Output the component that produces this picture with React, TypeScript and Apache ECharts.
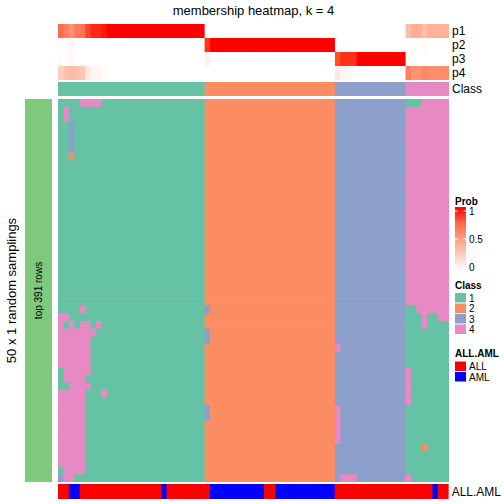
import React, { useEffect, useRef } from "react";
import * as echarts from "echarts";

const titleText = "membership heatmap, k = 4";
const rowTitle = "50 x 1 random samplings";
const sliceLabel = "top 391 rows";
const probNames = ["p1", "p2", "p3", "p4"];
const classNames = ["1", "2", "3", "4"];
const classColors = ["#66C2A5", "#FC8D62", "#8DA0CB", "#E78AC3"];
const sampleNames = ["ALL", "AML"];
const sampleColors = ["#FF0000", "#0000FF"];
const probTicks = ["1", "0.5", "0"];

// membership probabilities per column (72 samples)
const p1 = [
  0.73, 0.65, 0.57, 0.67, 0.7, 0.88, 0.95, 0.95, 0.98,
  1, 1, 1, 1, 1, 1, 1, 1, 1, 1, 1, 1, 1, 1, 1, 1, 1, 1,
  0, 0, 0, 0, 0, 0, 0, 0, 0, 0, 0, 0, 0, 0, 0, 0, 0, 0, 0, 0, 0, 0, 0, 0,
  0, 0, 0, 0, 0, 0, 0, 0, 0, 0, 0, 0, 0,
  0.35, 0.42, 0.42, 0.33, 0.4, 0.4, 0.4, 0.4,
];
const p2 = [
  0, 0.02, 0.04, 0, 0, 0, 0, 0, 0,
  0, 0, 0, 0, 0, 0, 0, 0, 0, 0, 0, 0, 0, 0, 0, 0, 0, 0,
  0.92, 1, 1, 1, 1, 1, 1, 1, 1, 1, 1, 1, 1, 1, 1, 1, 1, 1, 1, 1, 1, 1, 1, 1,
  0, 0, 0, 0, 0, 0, 0, 0, 0, 0, 0, 0, 0,
  0, 0, 0, 0.03, 0, 0, 0, 0,
];
const p3 = [
  0.02, 0, 0.04, 0, 0, 0, 0, 0, 0,
  0, 0, 0, 0, 0, 0, 0, 0, 0, 0, 0, 0, 0, 0, 0, 0, 0, 0,
  0.08, 0, 0, 0, 0, 0, 0, 0, 0, 0, 0, 0, 0, 0, 0, 0, 0, 0, 0, 0, 0, 0, 0, 0,
  0.85, 0.93, 0.93, 0.93, 1, 1, 1, 1, 1, 1, 1, 1, 1,
  0, 0, 0, 0, 0, 0, 0, 0,
];
const p4 = [
  0.25, 0.33, 0.35, 0.33, 0.3, 0.12, 0.05, 0.05, 0.02,
  0, 0, 0, 0, 0, 0, 0, 0, 0, 0, 0, 0, 0, 0, 0, 0, 0, 0,
  0, 0, 0, 0, 0, 0, 0, 0, 0, 0, 0, 0, 0, 0, 0, 0, 0, 0, 0, 0, 0, 0, 0, 0,
  0.12, 0.05, 0.04, 0, 0, 0, 0, 0, 0, 0, 0, 0, 0,
  0.65, 0.55, 0.55, 0.62, 0.58, 0.58, 0.58, 0.58,
];

// consensus class per column, as runs [class, count]
const classRuns = [[1, 27], [2, 24], [3, 13], [4, 8]];

// ALL.AML per column, as runs [type, count]
const sampleRuns: [string, number][] = [
  ["ALL", 2], ["AML", 2], ["ALL", 15], ["AML", 1], ["ALL", 8], ["AML", 10],
  ["ALL", 2], ["AML", 11], ["ALL", 18], ["AML", 1], ["ALL", 2],
];

// 50 random samplings, each row as runs "class*count"
const samplingRows = [
  "1*4 4*4 1*19 2*24 3*13 1*3 4*5",
  "1*1 4*1 1*25 2*24 3*13 4*8",
  "1*1 4*1 1*25 2*24 3*13 4*8",
  "1*2 3*1 1*24 2*24 3*13 4*8",
  "1*2 3*1 1*24 2*24 3*13 4*8",
  "1*2 3*1 1*24 2*24 3*13 4*8",
  "1*2 3*1 1*24 2*24 3*13 4*8",
  "1*2 2*1 1*24 2*24 3*13 4*8",
  "1*27 2*24 3*13 4*8",
  "1*27 2*24 3*13 4*8",
  "1*27 2*24 3*13 4*8",
  "1*27 2*24 3*13 4*8",
  "1*27 2*24 3*13 4*8",
  "1*27 2*24 3*13 4*8",
  "1*27 2*24 3*13 4*8",
  "1*27 2*24 3*13 4*8",
  "1*27 2*24 3*13 4*8",
  "1*27 2*24 3*13 4*8",
  "1*27 2*24 3*13 4*8",
  "1*27 2*24 3*13 4*8",
  "1*27 2*24 3*13 4*8",
  "1*27 2*24 3*13 4*8",
  "1*27 2*24 3*13 4*8",
  "1*27 2*24 3*13 4*8",
  "1*27 2*24 3*13 4*8",
  "1*27 2*24 3*13 4*8",
  "1*27 2*24 3*13 4*8",
  "1*4 4*1 1*22 3*1 2*23 3*13 1*2 4*6",
  "4*2 1*25 2*24 3*13 1*3 4*1 1*2 4*2",
  "4*1 1*1 4*1 1*1 4*2 1*1 4*1 1*19 2*24 3*13 1*3 4*1 1*4",
  "4*7 1*20 3*1 2*23 3*13 1*8",
  "4*6 1*21 3*1 2*23 3*13 1*8",
  "4*6 1*21 2*24 4*1 3*12 1*8",
  "4*6 1*21 2*24 3*13 1*8",
  "4*6 1*21 2*24 3*13 1*8",
  "1*1 4*5 1*21 2*24 3*13 4*1 1*7",
  "1*1 4*4 1*22 2*24 3*13 4*1 1*7",
  "1*2 4*4 1*21 2*24 3*13 4*1 1*7",
  "4*5 1*3 4*1 1*18 2*24 3*13 4*1 1*7",
  "4*5 1*22 2*24 3*13 4*1 1*7",
  "4*5 1*22 3*1 2*23 4*1 3*12 1*8",
  "4*5 1*22 3*1 2*23 4*1 3*12 1*8",
  "4*5 1*22 2*24 4*1 3*12 1*8",
  "4*5 1*22 2*24 4*1 3*12 1*8",
  "4*5 1*22 2*24 4*1 3*12 1*8",
  "4*5 1*22 2*24 3*13 1*3 2*1 1*4",
  "4*5 1*22 2*24 3*13 1*8",
  "4*5 1*22 2*24 3*13 1*8",
  "1*1 4*4 1*22 2*24 3*13 1*8",
  "3*1 4*2 1*24 2*24 3*1 4*3 3*9 4*1 1*7",
];

const FONT = "Liberation Sans, Arial, Helvetica, sans-serif";

// LAB interpolation white -> red (like colorRamp2)
function lin(c: number) {
  c /= 255;
  return c <= 0.04045 ? c / 12.92 : Math.pow((c + 0.055) / 1.055, 2.4);
}
function toLab(rgb: number[]) {
  const r = lin(rgb[0]), g = lin(rgb[1]), b = lin(rgb[2]);
  const X = (0.4124 * r + 0.3576 * g + 0.1805 * b) / 0.95047;
  const Y = 0.2126 * r + 0.7152 * g + 0.0722 * b;
  const Z = (0.0193 * r + 0.1192 * g + 0.9505 * b) / 1.08883;
  const f = (t: number) => (t > 0.008856 ? Math.cbrt(t) : 7.787 * t + 16 / 116);
  return [116 * f(Y) - 16, 500 * (f(X) - f(Y)), 200 * (f(Y) - f(Z))];
}
function fromLab(L: number, a: number, bb: number) {
  const fy = (L + 16) / 116, fx = fy + a / 500, fz = fy - bb / 200;
  const inv = (t: number) => (t * t * t > 0.008856 ? t * t * t : (t - 16 / 116) / 7.787);
  const X = 0.95047 * inv(fx), Y = inv(fy), Z = 1.08883 * inv(fz);
  const r = 3.2406 * X - 1.5372 * Y - 0.4986 * Z;
  const g = -0.9689 * X + 1.8758 * Y + 0.0415 * Z;
  const b = 0.0557 * X - 0.204 * Y + 1.057 * Z;
  const gam = (c: number) => {
    const v = c <= 0.0031308 ? 12.92 * c : 1.055 * Math.pow(c, 1 / 2.4) - 0.055;
    return Math.max(0, Math.min(255, Math.round(v * 255)));
  };
  return `rgb(${gam(r)},${gam(g)},${gam(b)})`;
}
const labW = toLab([255, 255, 255]);
const labR = toLab([255, 0, 0]);
function probColor(v: number) {
  return fromLab(
    labW[0] + (labR[0] - labW[0]) * v,
    labW[1] + (labR[1] - labW[1]) * v,
    labW[2] + (labR[2] - labW[2]) * v
  );
}

const nCols = p1.length;
const colCats = Array.from({ length: nCols }, (_, i) => "s" + (i + 1));
const rowCats = samplingRows.map((_, i) => "r" + (i + 1));

function rectRender(colors: string[], nX: number, nY: number) {
  return (params: any, api: any) => {
    const x = api.value(0), y = api.value(1), len = api.value(2);
    const c = api.coord([x, y]);
    const s = api.size([1, 1]);
    const padW = x + len < nX ? 0.7 : 0;
    const padH = y + 1 < nY ? 0.7 : 0;
    return {
      type: "rect",
      shape: { x: c[0] - s[0] / 2, y: c[1] - s[1] / 2, width: s[0] * len + padW, height: s[1] + padH },
      style: { fill: colors[params.dataIndex] },
    };
  };
}

export default function App() {
  const ref = useRef<HTMLDivElement>(null);
  useEffect(() => {
    if (!ref.current) return;
    const chart = echarts.init(ref.current, null, { renderer: "svg" });

    const probData: number[][] = [];
    const probColors: string[] = [];
    [p1, p2, p3, p4].forEach((arr, r) => {
      arr.forEach((v, c) => {
        probData.push([c, r, 1]);
        probColors.push(probColor(v));
      });
    });

    const classData: number[][] = [];
    const classCols: string[] = [];
    let pos = 0;
    classRuns.forEach(([k, n]) => {
      classData.push([pos, 0, n]);
      classCols.push(classColors[k - 1]);
      pos += n;
    });

    const mainData: number[][] = [];
    const mainCols: string[] = [];
    samplingRows.forEach((row, r) => {
      let x = 0;
      row.split(" ").forEach((tok) => {
        const [k, n] = tok.split("*").map(Number);
        mainData.push([x, r, n]);
        mainCols.push(classColors[k - 1]);
        x += n;
      });
    });

    const sData: number[][] = [];
    const sCols: string[] = [];
    pos = 0;
    sampleRuns.forEach(([t, n]) => {
      sData.push([pos, 0, n]);
      sCols.push(sampleColors[sampleNames.indexOf(t)]);
      pos += n;
    });

    const grids = [
      { left: 58, top: 24, width: 391, height: 56 },
      { left: 58, top: 82, width: 391, height: 14 },
      { left: 58, top: 99, width: 391, height: 383 },
      { left: 58, top: 484, width: 391, height: 15 },
    ];
    const yCats = [probNames, ["Class"], rowCats, ["ALL.AML"]];

    const gradStops = [0, 0.25, 0.5, 0.75, 1].map((o) => ({ offset: o, color: probColor(1 - o) }));

    const legendX = 455;
    const graphic: any[] = [
      {
        type: "rect",
        shape: { x: 25, y: 99, width: 27, height: 383 },
        style: { fill: "#7FC97F" },
      },
      {
        type: "text",
        x: 38, y: 290.5, rotation: Math.PI / 2,
        style: { text: sliceLabel, fill: "#000", font: `10px ${FONT}`, align: "center", verticalAlign: "middle" },
      },
      {
        type: "text",
        x: 11, y: 290.5, rotation: Math.PI / 2,
        style: { text: rowTitle, fill: "#000", font: `13px ${FONT}`, align: "center", verticalAlign: "middle" },
      },
      {
        type: "text",
        x: 253.5, y: 10,
        style: { text: titleText, fill: "#000", font: `13px ${FONT}`, align: "center", verticalAlign: "middle" },
      },
      {
        type: "text", x: legendX, y: 201,
        style: { text: "Prob", fill: "#000", font: `bold 10px ${FONT}`, verticalAlign: "middle" },
      },
      {
        type: "rect",
        shape: { x: legendX, y: 207, width: 11, height: 64 },
        style: { fill: new echarts.graphic.LinearGradient(0, 0, 0, 1, gradStops) },
      },
    ];
    const tickY = [211, 239, 267];
    probTicks.forEach((t, i) => {
      graphic.push({
        type: "line", shape: { x1: legendX, y1: tickY[i], x2: legendX + 2.5, y2: tickY[i] },
        style: { stroke: "#fff", lineWidth: 1 },
      });
      graphic.push({
        type: "line", shape: { x1: legendX + 8.5, y1: tickY[i], x2: legendX + 11, y2: tickY[i] },
        style: { stroke: "#fff", lineWidth: 1 },
      });
      graphic.push({
        type: "text", x: legendX + 14, y: tickY[i],
        style: { text: t, fill: "#000", font: `10px ${FONT}`, verticalAlign: "middle" },
      });
    });
    graphic.push({
      type: "text", x: legendX, y: 285,
      style: { text: "Class", fill: "#000", font: `bold 10px ${FONT}`, verticalAlign: "middle" },
    });
    classNames.forEach((n, i) => {
      const y = 293 + i * 10.5;
      graphic.push({
        type: "rect", shape: { x: legendX, y, width: 11, height: 9.5 },
        style: { fill: classColors[i] },
      });
      graphic.push({
        type: "text", x: legendX + 14, y: y + 5,
        style: { text: n, fill: "#000", font: `10px ${FONT}`, verticalAlign: "middle" },
      });
    });
    graphic.push({
      type: "text", x: legendX, y: 353,
      style: { text: "ALL.AML", fill: "#000", font: `bold 10px ${FONT}`, verticalAlign: "middle" },
    });
    sampleNames.forEach((n, i) => {
      const y = 361.5 + i * 10.5;
      graphic.push({
        type: "rect", shape: { x: legendX, y, width: 11, height: 9.5 },
        style: { fill: sampleColors[i] },
      });
      graphic.push({
        type: "text", x: legendX + 14, y: y + 5,
        style: { text: n, fill: "#000", font: `10px ${FONT}`, verticalAlign: "middle" },
      });
    });

    const nYs = [4, 1, samplingRows.length, 1];
    chart.setOption({
      animation: false,
      backgroundColor: "#fff",
      grid: grids,
      xAxis: grids.map((_, i) => ({
        type: "category", gridIndex: i, data: colCats, show: false,
      })),
      yAxis: grids.map((_, i) => ({
        type: "category", gridIndex: i, data: yCats[i], inverse: true, position: "right",
        axisLine: { show: false }, axisTick: { show: false }, splitLine: { show: false },
        axisLabel: { show: i !== 2, interval: 0, margin: 3, fontSize: 12, color: "#000", fontFamily: FONT },
      })),
      series: [
        { type: "custom", xAxisIndex: 0, yAxisIndex: 0, data: probData, renderItem: rectRender(probColors, nCols, nYs[0]), silent: true },
        { type: "custom", xAxisIndex: 1, yAxisIndex: 1, data: classData, renderItem: rectRender(classCols, nCols, nYs[1]), silent: true },
        { type: "custom", xAxisIndex: 2, yAxisIndex: 2, data: mainData, renderItem: rectRender(mainCols, nCols, nYs[2]), silent: true },
        { type: "custom", xAxisIndex: 3, yAxisIndex: 3, data: sData, renderItem: rectRender(sCols, nCols, nYs[3]), silent: true },
      ],
      graphic,
    });
    return () => chart.dispose();
  }, []);
  return (
    <div
      ref={ref}
      style={{ position: "fixed", left: 0, top: 0, width: 504, height: 504, background: "#fff" }}
    />
  );
}
